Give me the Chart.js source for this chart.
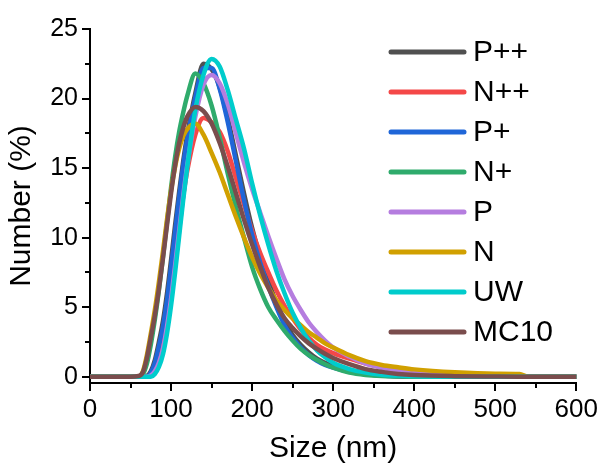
<!DOCTYPE html>
<html><head><meta charset="utf-8">
<script src="https://cdn.jsdelivr.net/npm/chart.js@4.4.0/dist/chart.umd.min.js"></script>
<style>html,body{margin:0;padding:0;background:#fff;}</style>
</head><body>
<canvas id="c" width="601" height="464"></canvas>
<script>
// Size grid (nm)
const sizes = [0,50,60,65,70,75,80,85,90,95,100,105,110,115,120,130,140,150,160,170,180,190,200,210,220,230,240,250,260,270,280,290,300,320,340,360,380,400,450,500,530,540,600];

const seriesNames = ['P++','N++','P+','N+','P','N','UW','MC10'];
const seriesColors = ['#505050','#f44848','#1f66d8','#2fab6c','#b57ddf','#d1a000','#00cccc','#7a4d4d'];

const valsPPP  = [0,0,0,0,0.05,0.4,1.2,2.5,4.0,6.0,8.4,10.9,13.3,15.5,17.4,20.4,22.5,22.1,20.8,18.6,15.9,13.2,10.7,8.6,6.9,5.3,4.0,3.0,2.3,1.75,1.3,1.0,0.75,0.4,0.2,0.1,0.04,0.02,0,0,0,0,0];
const valsNPP  = [0,0,0,0,0,0.2,0.7,1.6,2.9,4.6,6.6,8.8,11.0,13.0,14.8,17.4,18.6,18.3,17.6,16.2,14.3,12.4,10.5,8.9,7.5,6.2,5.1,4.2,3.4,2.8,2.3,1.95,1.7,1.3,0.95,0.7,0.5,0.35,0.12,0.03,0,0,0];
const valsPP   = [0,0,0,0,0,0.3,1.0,2.2,3.6,5.5,7.9,10.4,12.9,15.2,17.1,20.1,22.2,22.2,20.7,18.3,15.5,12.7,10.2,8.2,6.5,5.0,3.7,2.8,2.1,1.55,1.15,0.85,0.65,0.35,0.17,0.08,0.03,0.01,0,0,0,0,0];
const valsNP   = [0,0,0,0.15,0.9,2.3,4.1,6.2,8.6,11.1,13.6,15.8,17.6,19.0,20.2,21.8,21.1,19.5,17.2,14.6,12.2,10.0,7.9,6.3,5.0,4.1,3.3,2.6,2.0,1.55,1.2,0.9,0.65,0.3,0.13,0.05,0.02,0,0,0,0,0,0];
const valsP    = [0,0,0,0,0,0.1,0.4,1.0,2.0,3.6,5.6,8.0,10.5,13.0,15.2,18.7,21.0,21.7,21.1,19.6,17.5,15.4,13.5,11.8,10.1,8.5,7.0,5.8,4.8,3.9,3.2,2.6,2.1,1.45,0.95,0.65,0.45,0.3,0.1,0.03,0,0,0];
const valsN    = [0,0,0,0.35,1.5,3.1,4.8,6.8,9.0,11.3,13.4,15.1,16.4,17.3,17.8,18.2,17.4,16.1,14.7,13.1,11.5,10.0,8.6,7.4,6.4,5.5,4.8,4.2,3.7,3.2,2.8,2.4,2.1,1.55,1.12,0.85,0.68,0.53,0.32,0.22,0.2,0,0];
const valsUW   = [0,0,0,0,0,0,0.2,0.7,1.6,3.1,5.1,7.5,10.1,12.7,15.1,19.2,21.7,22.85,22.3,20.6,18.5,16.4,13.9,11.6,9.5,7.6,6.0,4.6,3.5,2.6,1.9,1.4,1.0,0.55,0.3,0.15,0.08,0.03,0,0,0,0,0];
const valsMC10 = [0,0,0.05,0.3,1.3,2.8,4.4,6.3,8.5,10.9,13.2,15.2,16.8,17.9,18.7,19.4,19.1,18.2,16.8,15.1,13.2,11.3,9.5,7.9,6.4,5.2,4.2,3.5,2.9,2.4,2.0,1.65,1.35,0.9,0.55,0.35,0.2,0.12,0.04,0.01,0,0,0];

const seriesValues = [valsPPP, valsNPP, valsPP, valsNP, valsP, valsN, valsUW, valsMC10];

const xMajorTicks = [0,100,200,300,400,500,600];
const xMinorTicks = [50,150,250,350,450,550];
const yMajorTicks = [0,5,10,15,20,25];
const yMinorTicks = [2.5,7.5,12.5,17.5,22.5];

const FONT = "'Liberation Sans', Arial, sans-serif";

const datasets = seriesNames.map((name, i) => ({
  label: name,
  data: sizes.map((s, k) => ({x: s, y: seriesValues[i][k]})),
  borderColor: seriesColors[i],
  backgroundColor: seriesColors[i],
  borderWidth: 4.5,
  pointRadius: 0,
  cubicInterpolationMode: 'monotone',
  borderCapStyle: 'round',
  borderJoinStyle: 'round',
  fill: false,
  order: seriesNames.length - i
}));

const decoPlugin = {
  id: 'deco',
  afterDraw(chart) {
    const ctx = chart.ctx;
    const xs = chart.scales.x, ys = chart.scales.y;
    const a = chart.chartArea;
    ctx.save();
    ctx.strokeStyle = '#000';
    ctx.lineWidth = 2;
    ctx.lineCap = 'butt';
    const xt = (vals, len) => vals.forEach(v => {
      const px = Math.round(xs.getPixelForValue(v));
      ctx.beginPath(); ctx.moveTo(px, a.bottom); ctx.lineTo(px, a.bottom + len); ctx.stroke();
    });
    const yt = (vals, len) => vals.forEach(v => {
      const py = Math.round(ys.getPixelForValue(v));
      ctx.beginPath(); ctx.moveTo(a.left, py); ctx.lineTo(a.left - len, py); ctx.stroke();
    });
    xt(xMajorTicks, 8); xt(xMinorTicks, 5);
    yt(yMajorTicks, 8); yt(yMinorTicks, 5);
    // legend
    ctx.font = '30px ' + FONT;
    ctx.textBaseline = 'middle';
    ctx.textAlign = 'left';
    chart.data.datasets.forEach((ds, i) => {
      const y = 52 + 40 * i;
      ctx.strokeStyle = ds.borderColor;
      ctx.lineWidth = 5;
      ctx.lineCap = 'round';
      ctx.beginPath(); ctx.moveTo(391, y); ctx.lineTo(464, y); ctx.stroke();
      ctx.fillStyle = '#000';
      ctx.fillText(ds.label, 473, y + 1);
    });
    ctx.restore();
  }
};

new Chart(document.getElementById('c'), {
  type: 'line',
  data: { datasets },
  options: {
    responsive: false,
    devicePixelRatio: 1,
    animation: false,
    layout: { padding: { top: 29, right: 23, left: 0, bottom: 0 } },
    plugins: { legend: { display: false }, tooltip: { enabled: false } },
    scales: {
      x: {
        type: 'linear', min: 0, max: 600,
        afterFit(s) { s.height = 81; },
        afterBuildTicks(s) { s.ticks = xMajorTicks.map(v => ({value: v})); },
        grid: { display: true, drawOnChartArea: false, drawTicks: true, tickLength: 8, color: 'rgba(0,0,0,0)' },
        border: { display: true, color: '#000', width: 2 },
        ticks: { color: '#000', padding: 3, maxRotation: 0, font: { family: FONT, size: 26 } },
        title: { display: true, text: 'Size (nm)', color: '#000', padding: { top: 0, bottom: 0 }, font: { family: FONT, size: 30, lineHeight: 1 } }
      },
      y: {
        type: 'linear', min: -0.45, max: 25,
        afterFit(s) { s.width = 90; },
        afterBuildTicks(s) { s.ticks = yMajorTicks.map(v => ({value: v})); },
        grid: { display: true, drawOnChartArea: false, drawTicks: true, tickLength: 8, color: 'rgba(0,0,0,0)' },
        border: { display: true, color: '#000', width: 2 },
        ticks: { color: '#000', padding: 4, font: { family: FONT, size: 25 } },
        title: { display: true, text: 'Number (%)', color: '#000', padding: { top: 7, bottom: 0 }, font: { family: FONT, size: 30, lineHeight: 1 } }
      }
    }
  },
  plugins: [decoPlugin]
});
</script>
</body></html>
